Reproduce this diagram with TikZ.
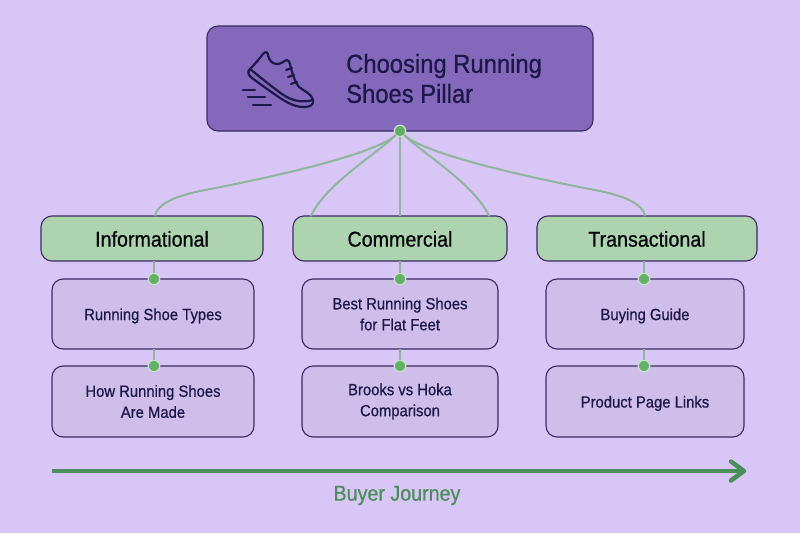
\documentclass[tikz,border=0pt]{standalone}
\usepackage{fontspec}
\setmainfont[FakeStretch=0.915,FakeBold=0.7]{Liberation Sans}
\definecolor{bgcol}{HTML}{D8C7F6}
\definecolor{pillarcol}{HTML}{8468BB}
\definecolor{greencol}{HTML}{AED3AF}
\definecolor{subcol}{HTML}{CFBDEA}
\definecolor{edgecol}{HTML}{3A2C62}
\definecolor{inkcol}{HTML}{1C1848}
\definecolor{linkcol}{HTML}{8FB69C}
\definecolor{dotcol}{HTML}{66AF68}
\definecolor{ringcol}{HTML}{C6E3CB}
\definecolor{journeycol}{HTML}{4B8E5C}
\tikzset{
  boxbase/.style={draw=edgecol,line width=1.1pt,rounded corners=11pt,align=center,text=inkcol,inner sep=0pt,outer sep=0pt},
  catbox/.style={boxbase,fill=greencol,minimum height=45pt,font=\fontsize{21.5}{24}\selectfont,text=black!85!inkcol,execute at begin node={\rule{0pt}{16.5pt}}},
  subbox/.style={boxbase,fill=subcol,font=\fontsize{16.2}{21}\selectfont,execute at begin node={\rule{0pt}{15.5pt}}},
  linkline/.style={draw=linkcol,line width=2pt},
  jdot/.style={circle,fill=dotcol,draw=ringcol,line width=1.2pt,minimum size=11.5pt,inner sep=0pt,outer sep=0pt},
  shoeline/.style={draw=inkcol,line width=2.2pt,line cap=round,line join=round}
}
\begin{document}
\begin{tikzpicture}[x=1pt,y=-1pt]
	\fill[bgcol] (0,0) rectangle (800,533);
	\useasboundingbox (0,0) rectangle (800,533);

	% top box
	\node[boxbase,fill=pillarcol,minimum width=386pt,minimum height=105pt] (pillar) at (400,78.5) {};
	\node[anchor=west,align=left,text=inkcol,inner sep=0pt,font=\fontsize{26}{30}\selectfont] (pillartitle) at (346,78.5) {Choosing Running\\Shoes Pillar};

	% shoe icon
	\begin{scope}[shift={(230,40)},shoeline]
		\draw (20,29) .. controls (25,24) and (30,18) .. (33,14) .. controls (35,11) and (38,12) .. (38,15)
			.. controls (39,21) and (43,24) .. (47,24) .. controls (51,24) and (54,21) .. (57,20)
			.. controls (59,20) and (59,22) .. (60,24) .. controls (62,33) and (65,42) .. (69,47)
			.. controls (74,51) and (82,54) .. (83,60) .. controls (84,65) and (80,67) .. (74,67)
			.. controls (65,67) and (58,63) .. (50,58) .. controls (40,51) and (30,44) .. (22,38)
			.. controls (18,35) and (17,31) .. (20,29) -- cycle;
		\draw (20,29) .. controls (30,37) and (42,47) .. (52,54) .. controls (62,61) and (72,63) .. (83,60);
		\draw (56,30) -- (62,28);
		\draw (58,37) -- (64,35);
		\draw (61,44) -- (67,42);
		\draw (13,50) -- (25,50);
		\draw (18,57) -- (35,57);
		\draw (23,65) -- (41,65);
	\end{scope}

	% categories
	\node[catbox,minimum width=222pt] (informational) at (152,238.5) {Informational};
	\node[catbox,minimum width=214pt] (commercial) at (400,238.5) {Commercial};
	\node[catbox,minimum width=220pt] (transactional) at (647,238.5) {Transactional};

	% topics
	\node[subbox,minimum width=202pt,minimum height=70pt] (shoetypes) at (153,314) {Running Shoe Types};
	\node[subbox,minimum width=202pt,minimum height=71pt] (howmade) at (153,401.5) {How Running Shoes\\Are Made};
	\node[subbox,minimum width=196pt,minimum height=70pt] (flatfeet) at (400,314) {Best Running Shoes\\for Flat Feet};
	\node[subbox,minimum width=196pt,minimum height=71pt] (brooks) at (400,401.5) {Brooks vs Hoka\\Comparison};
	\node[subbox,minimum width=198pt,minimum height=70pt] (buying) at (645,314) {Buying Guide};
	\node[subbox,minimum width=198pt,minimum height=71pt] (product) at (645,401.5) {Product Page Links};

	% dots
	\node[jdot] (dpillar) at (400,131) {};
	\node[jdot] (dinfoa) at (154,279) {};
	\node[jdot] (dinfob) at (154,366) {};
	\node[jdot] (dcomma) at (400,279) {};
	\node[jdot] (dcommb) at (400,366) {};
	\node[jdot] (dtransa) at (644,279) {};
	\node[jdot] (dtransb) at (644,366) {};

	% free ends on the category boxes
	\coordinate (ininfo) at (155,216);
	\coordinate (incomma) at (311,216);
	\coordinate (incommb) at (400,216);
	\coordinate (incommc) at (489,216);
	\coordinate (intrans) at (645,216);

	\begin{scope}[linkline]
		\draw (dpillar) .. controls (380,150) and (310,170) .. (200,191) .. controls (172,197) and (157,205) .. (ininfo);
		\draw (dpillar) .. controls (375,155) and (325,185) .. (incomma);
		\draw (dpillar) -- (incommb);
		\draw (dpillar) .. controls (425,155) and (475,185) .. (incommc);
		\draw (dpillar) .. controls (420,150) and (490,170) .. (600,191) .. controls (628,197) and (643,205) .. (intrans);
		\draw (dinfoa) -- (dinfoa |- informational.south);
		\draw (dinfob) -- (dinfob |- shoetypes.south);
		\draw (dcomma) -- (dcomma |- commercial.south);
		\draw (dcommb) -- (dcommb |- flatfeet.south);
		\draw (dtransa) -- (dtransa |- transactional.south);
		\draw (dtransb) -- (dtransb |- buying.south);
	\end{scope}

	% buyer journey
	\coordinate (jstart) at (52,471);
	\coordinate (jend) at (744,471);
	\draw[journeycol,line width=4.5pt] (jstart) -- (jend);
	\draw[journeycol,line width=4.5pt,line cap=round,line join=round] (731,461.5) -- (744,471) -- (731,480.5);
	\node[text=journeycol,inner sep=0pt,font=\fontsize{21.5}{24}\selectfont] (journey) at (397,495.5) {Buyer Journey};
\end{tikzpicture}
\end{document}
